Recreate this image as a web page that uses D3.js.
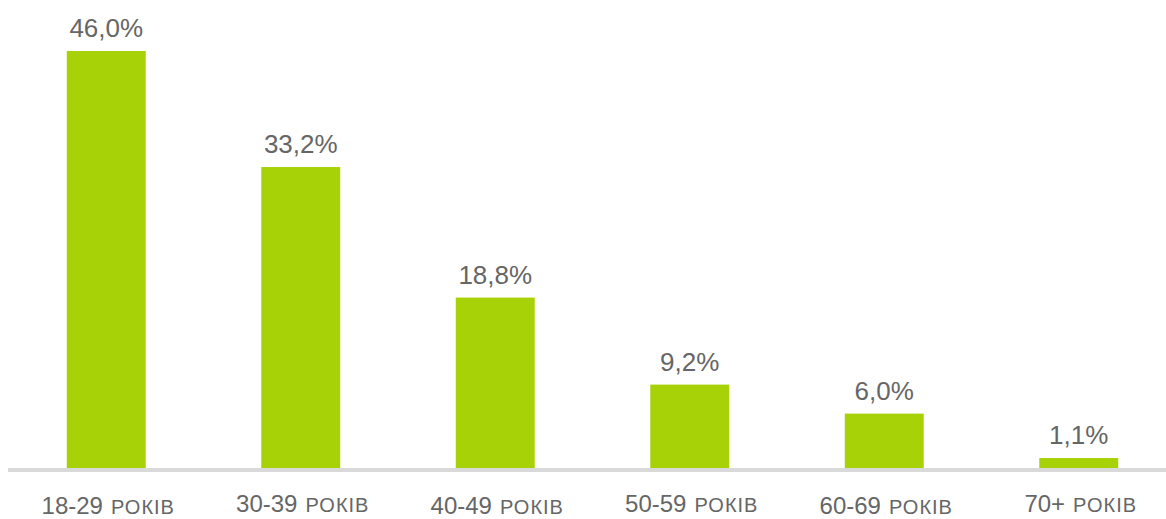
<!DOCTYPE html>
<html>
<head>
<meta charset="utf-8">
<script src="https://cdn.jsdelivr.net/npm/d3@7"></script>
<style>
  html, body { margin: 0; padding: 0; background: #ffffff; }
  svg { display: block; font-family: "Liberation Sans", Arial, sans-serif; }
</style>
</head>
<body>
<svg id="chart" width="1166" height="519"></svg>
<script>
const ageRanges = ["18-29", "30-39", "40-49", "50-59", "60-69", "70+"];
const unitLabel = "РОКІВ";
const shares = [46.0, 33.2, 18.8, 9.2, 6.0, 1.1];

const W = 1166, H = 519;
const baseY = 468;
const svg = d3.select("#chart");

const x = d3.scaleBand()
  .domain(ageRanges)
  .range([9, 1176])
  .paddingInner(0.594)
  .paddingOuter(0.297);

const y = d3.scaleLinear()
  .domain([0, 46.0])
  .range([baseY, 51]);

const data = ageRanges.map((c, i) => ({ c, v: shares[i] }));

// axis baseline
svg.append("line")
  .attr("x1", 8).attr("x2", W)
  .attr("y1", baseY + 2).attr("y2", baseY + 2)
  .attr("stroke", "#d9d9d9")
  .attr("stroke-width", 4);

// bars
svg.selectAll("rect.bar")
  .data(data)
  .join("rect")
  .attr("class", "bar")
  .attr("x", d => x(d.c))
  .attr("width", x.bandwidth())
  .attr("y", d => y(d.v))
  .attr("height", d => baseY - y(d.v))
  .attr("fill", "#a8d208");

// value labels
const fmt = v => v.toFixed(1).replace(".", ",") + "%";
svg.selectAll("text.val")
  .data(data)
  .join("text")
  .attr("class", "val")
  .attr("x", d => x(d.c) + x.bandwidth() / 2)
  .attr("y", d => y(d.v) - 14)
  .attr("text-anchor", "middle")
  .attr("fill", "#666666")
  .attr("font-size", 26)
  .text(d => fmt(d.v));

// category labels
const cat = svg.selectAll("text.cat")
  .data(data)
  .join("text")
  .attr("class", "cat")
  .attr("x", d => x(d.c) + x.bandwidth() / 2 + 2)
  .attr("y", (d, i) => i % 2 === 1 ? 512 : 514)
  .attr("text-anchor", "middle")
  .attr("fill", "#666666");
cat.append("tspan").attr("font-size", 24).text(d => d.c);
cat.append("tspan").attr("font-size", 20).attr("dx", 8)
  .attr("letter-spacing", 1).text(unitLabel);
</script>
</body>
</html>
